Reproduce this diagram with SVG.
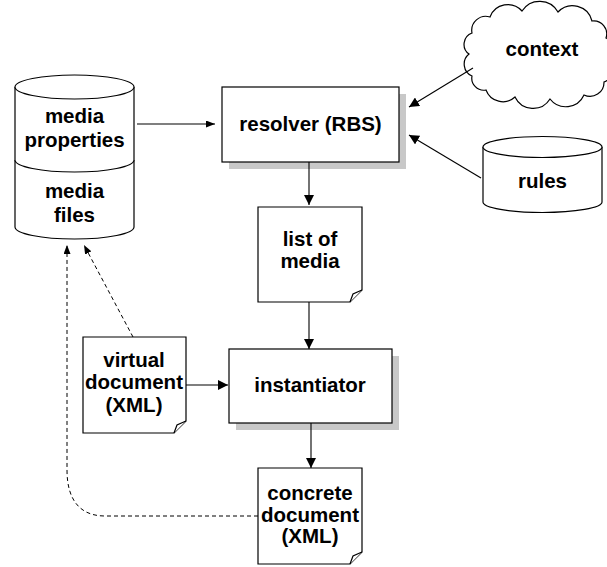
<svg xmlns="http://www.w3.org/2000/svg" width="607" height="567" viewBox="0 0 607 567">
<defs>
<style>
.s{fill:#fff;stroke:#000;stroke-width:1.2}
.sh{fill:#c8c8c8;stroke:none}
.t{font-family:"Liberation Sans",Arial,sans-serif;font-weight:bold;font-size:20.5px;fill:#000;text-anchor:middle}
.c{fill:none;stroke:#000;stroke-width:1.1}
.d{fill:none;stroke:#000;stroke-width:1;stroke-dasharray:4 3}
</style>
<marker id="arr" markerUnits="userSpaceOnUse" markerWidth="10" markerHeight="10" refX="10" refY="5" orient="auto"><path d="M0,0 L10,5 L0,10 z" fill="#000"/></marker>
<marker id="arrs" markerUnits="userSpaceOnUse" markerWidth="9" markerHeight="7" refX="9" refY="3.5" orient="auto"><path d="M0,0 L9,3.5 L0,7 z" fill="#000"/></marker>
</defs>
<rect width="607" height="567" fill="#fff"/>

<g id="media">
<path class="s" d="M15,87 V227 A59.5,12 0 0 0 134,227 V87"/>
<ellipse class="s" cx="74.5" cy="87" rx="59.5" ry="12"/>
<path class="s" fill="none" d="M15,160 A59.5,12 0 0 0 134,160"/>
<text class="t" x="74.5" y="123">media</text>
<text class="t" x="74.5" y="147">properties</text>
<text class="t" x="74.5" y="198">media</text>
<text class="t" x="74.5" y="222">files</text>
</g>

<g id="resolver">
<rect class="sh" x="229" y="94" width="177" height="75"/>
<rect class="s" x="222" y="87" width="177" height="75"/>
<text class="t" x="310.5" y="131">resolver (RBS)</text>
</g>

<g id="context">
<path class="s" d="M472,33 A14,14 0 0 1 490,17 A19,19 0 0 1 522,11 A21,21 0 0 1 558,12 A20,20 0 0 1 592,21 A13,13 0 0 1 606,38 A13,13 0 0 1 608,60 A13,13 0 0 1 604,82 A14,14 0 0 1 584,95 A20,20 0 0 1 550,99 A20,20 0 0 1 515,97 A18,18 0 0 1 486,90 A12,12 0 0 1 472,76 A13,13 0 0 1 469,54 A12,12 0 0 1 472,33 Z"/>
<text class="t" x="542" y="56">context</text>
</g>

<g id="rules">
<path class="s" d="M483,147 V202 A59.5,10.5 0 0 0 602,202 V147"/>
<ellipse class="s" cx="542.5" cy="147" rx="59.5" ry="10.5"/>
<text class="t" x="542.5" y="188">rules</text>
</g>

<g id="list">
<path class="s" d="M258,207 H362 V290 L350,302 H258 Z"/>
<path class="s" d="M350,302 L353,294 L362,290"/>
<text class="t" x="310" y="246">list of</text>
<text class="t" x="310" y="268">media</text>
</g>

<g id="instantiator">
<rect class="sh" x="236" y="356" width="163" height="74"/>
<rect class="s" x="229" y="349" width="163" height="74"/>
<text class="t" x="310" y="392">instantiator</text>
</g>

<g id="virtual">
<path class="s" d="M83,337 H186 V421 L174,433 H83 Z"/>
<path class="s" d="M174,433 L177,425 L186,421"/>
<text class="t" x="134" y="367">virtual</text>
<text class="t" x="134" y="389">document</text>
<text class="t" x="134" y="412">(XML)</text>
</g>

<g id="concrete">
<path class="s" d="M258,468 H362 V552 L350,564 H258 Z"/>
<path class="s" d="M350,564 L353,556 L362,552"/>
<text class="t" x="310" y="500">concrete</text>
<text class="t" x="310" y="522">document</text>
<text class="t" x="310" y="543">(XML)</text>
</g>

<g id="connectors">
<path class="c" d="M137,124 H215" marker-end="url(#arrs)"/>
<path class="c" d="M473,68 L409,107" marker-end="url(#arr)"/>
<path class="c" d="M481,178 L409,135" marker-end="url(#arr)"/>
<path class="c" d="M309,162 V205" marker-end="url(#arr)"/>
<path class="c" d="M309,302 V349" marker-end="url(#arr)"/>
<path class="c" d="M186,385 H228" marker-end="url(#arr)"/>
<path class="c" d="M311,423 V468" marker-end="url(#arr)"/>
<path class="d" d="M133,337 L84,245" marker-end="url(#arrs)"/>
<path class="d" d="M258,516 H105 C80,516 67,500 67,470 V245" marker-end="url(#arrs)"/>
</g>
</svg>
